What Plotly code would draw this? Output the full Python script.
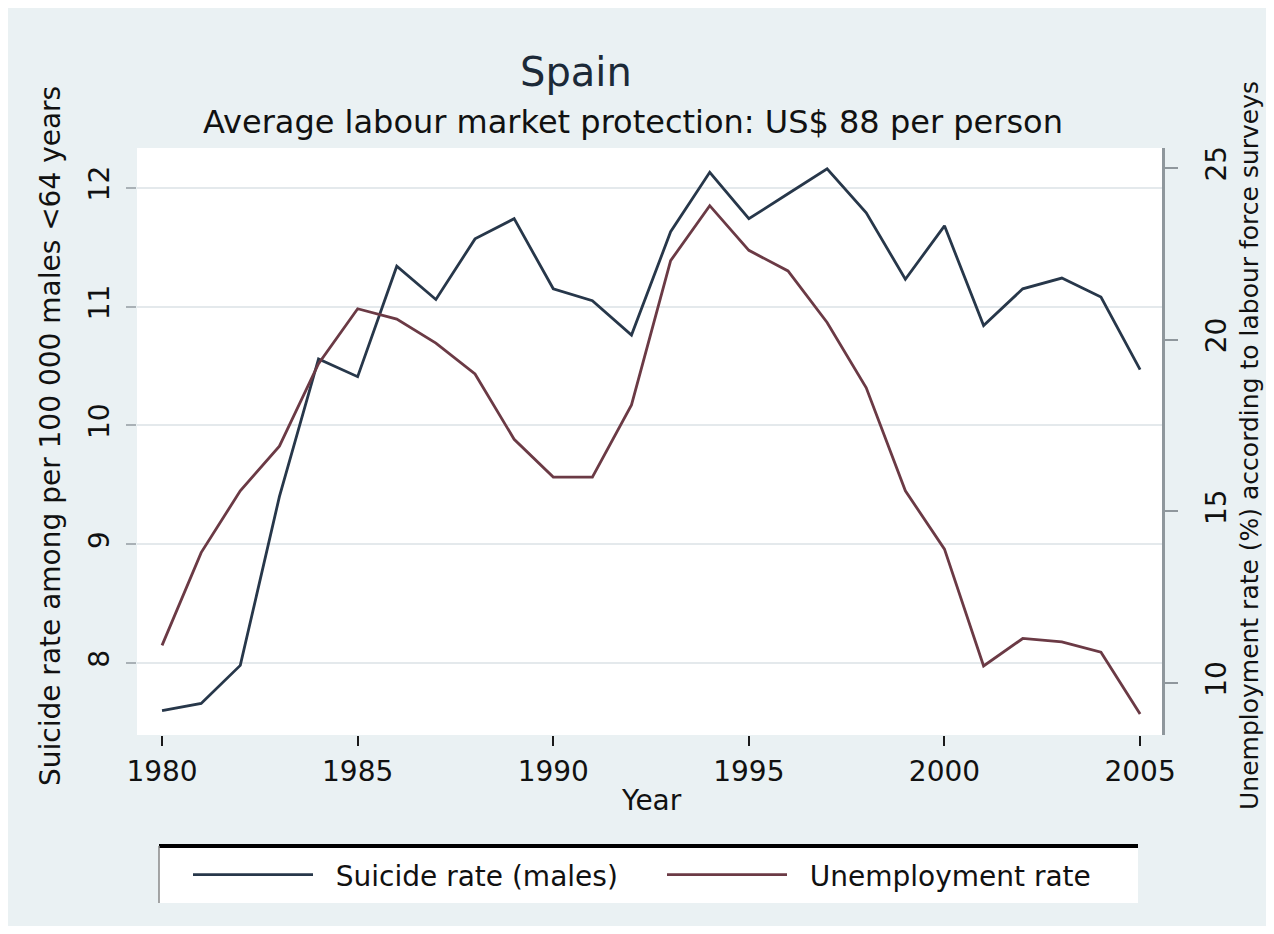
import plotly.graph_objects as go

# ---- data ----
years = list(range(1980, 2006))
suicide_rate = [7.60, 7.66, 7.98, 9.40, 10.56, 10.41, 11.34, 11.06, 11.57, 11.74,
                11.15, 11.05, 10.76, 11.63, 12.13, 11.74, 11.95, 12.16, 11.79, 11.23,
                11.68, 10.84, 11.15, 11.24, 11.08, 10.47]
unemployment_rate = [11.1, 13.8, 15.6, 16.9, 19.3, 20.9, 20.6, 19.9, 19.0, 17.1,
                     16.0, 16.0, 18.1, 22.3, 23.9, 22.6, 22.0, 20.5, 18.6, 15.6,
                     13.9, 10.5, 11.3, 11.2, 10.9, 9.1]
x_ticks = [1980, 1985, 1990, 1995, 2000, 2005]
left_ticks = [8, 9, 10, 11, 12]
right_ticks = [10, 15, 20, 25]

title_text = "Spain"
subtitle_text = "Average labour market protection: US$ 88 per person"
left_title = "Suicide rate among per 100 000 males <64 years"
right_title = "Unemployment rate (%) according to labour force surveys"
x_title = "Year"
names = ["Suicide rate (males)", "Unemployment rate"]

# ---- style ----
FONT = "DejaVu Sans"
NAVY = "#27374a"
MAROON = "#6b3a45"
BG = "#eaf1f3"
W, H = 1258, 918
L, R, T, B = 129, 1154, 140, 727   # plot area in figure pixels
PW, PH = R - L, B - T

def px(x):
    return (x - L) / PW

def py(y):
    return (B - y) / PH

GAP = "\u00a0\u00a0"  # visual gap between legend key and label

fig = go.Figure()
fig.add_trace(go.Scatter(x=years, y=suicide_rate, name=GAP + names[0], mode="lines",
                         line=dict(color=NAVY, width=2.8), yaxis="y"))
fig.add_trace(go.Scatter(x=years, y=unemployment_rate, name=GAP + names[1], mode="lines",
                         line=dict(color=MAROON, width=2.8), yaxis="y2"))

fig.update_layout(
    width=W, height=H, autosize=False,
    margin=dict(l=L, r=W - R, t=T, b=H - B, pad=0),
    paper_bgcolor=BG, plot_bgcolor="white",
    font=dict(family=FONT, color="#111111"),
    xaxis=dict(range=[1979.36, 2005.56], tickmode="array", tickvals=x_ticks,
               ticks="outside", ticklen=10, tickwidth=2, tickcolor="#1a1a1a",
               tickfont=dict(size=28, family=FONT, color="#111111"),
               showgrid=False, zeroline=False, showline=False,
               ticklabelstandoff=1),
    yaxis=dict(range=[7.394, 12.335], tickmode="array", tickvals=left_ticks,
               tickangle=-90, ticks="outside", ticklen=10, tickwidth=2,
               tickcolor="#a9b1b6", tickfont=dict(size=28, family=FONT, color="#111111"),
               showgrid=True, gridcolor="#e4e9ec", gridwidth=2,
               zeroline=False, showline=False, ticklabelstandoff=6),
    yaxis2=dict(range=[8.49, 25.58], overlaying="y", side="right", tickmode="array",
                tickvals=right_ticks, tickangle=-90, ticks="outside", ticklen=13,
                tickwidth=2, tickcolor="#8f979c",
                tickfont=dict(size=28, family=FONT, color="#111111"),
                showline=True, linecolor="#8f979c", linewidth=3,
                showgrid=False, zeroline=False, ticklabelstandoff=14),
    showlegend=True,
    legend=dict(orientation="h", x=px(180), xanchor="left", y=py(867), yanchor="middle",
                itemwidth=120, font=dict(size=28, family=FONT, color="#111111"),
                bgcolor="rgba(0,0,0,0)", borderwidth=0,
                entrywidth=339, entrywidthmode="pixels"),
    shapes=[
        dict(type="rect", xref="paper", yref="paper", x0=px(151), x1=px(1130),
             y0=py(895), y1=py(837), fillcolor="white", line=dict(width=0), layer="below"),
        dict(type="line", xref="paper", yref="paper", x0=px(151), x1=px(1130),
             y0=py(838), y1=py(838), line=dict(color="black", width=4)),
        dict(type="line", xref="paper", yref="paper", x0=px(151), x1=px(151),
             y0=py(895), y1=py(838), line=dict(color="#888888", width=1.5)),
    ],
    annotations=[
        dict(text=title_text, xref="paper", yref="paper", x=px(568), y=py(64),
             xanchor="center", yanchor="middle", showarrow=False,
             font=dict(size=40, family=FONT, color="#1c2a38")),
        dict(text=subtitle_text, xref="paper", yref="paper", x=px(625), y=py(114),
             xanchor="center", yanchor="middle", showarrow=False,
             font=dict(size=32, family=FONT, color="#111111")),
        dict(text=left_title, xref="paper", yref="paper", x=px(42), y=py(428),
             xanchor="center", yanchor="middle", textangle=-90, showarrow=False,
             font=dict(size=28, family=FONT, color="#111111")),
        dict(text=right_title, xref="paper", yref="paper", x=px(1242), y=py(438),
             xanchor="center", yanchor="middle", textangle=-90, showarrow=False,
             font=dict(size=25, family=FONT, color="#111111")),
        dict(text=x_title, xref="paper", yref="paper", x=px(643), y=py(792),
             xanchor="center", yanchor="middle", showarrow=False,
             font=dict(size=28, family=FONT, color="#111111")),
    ],
)

fig.write_html("out.html")
